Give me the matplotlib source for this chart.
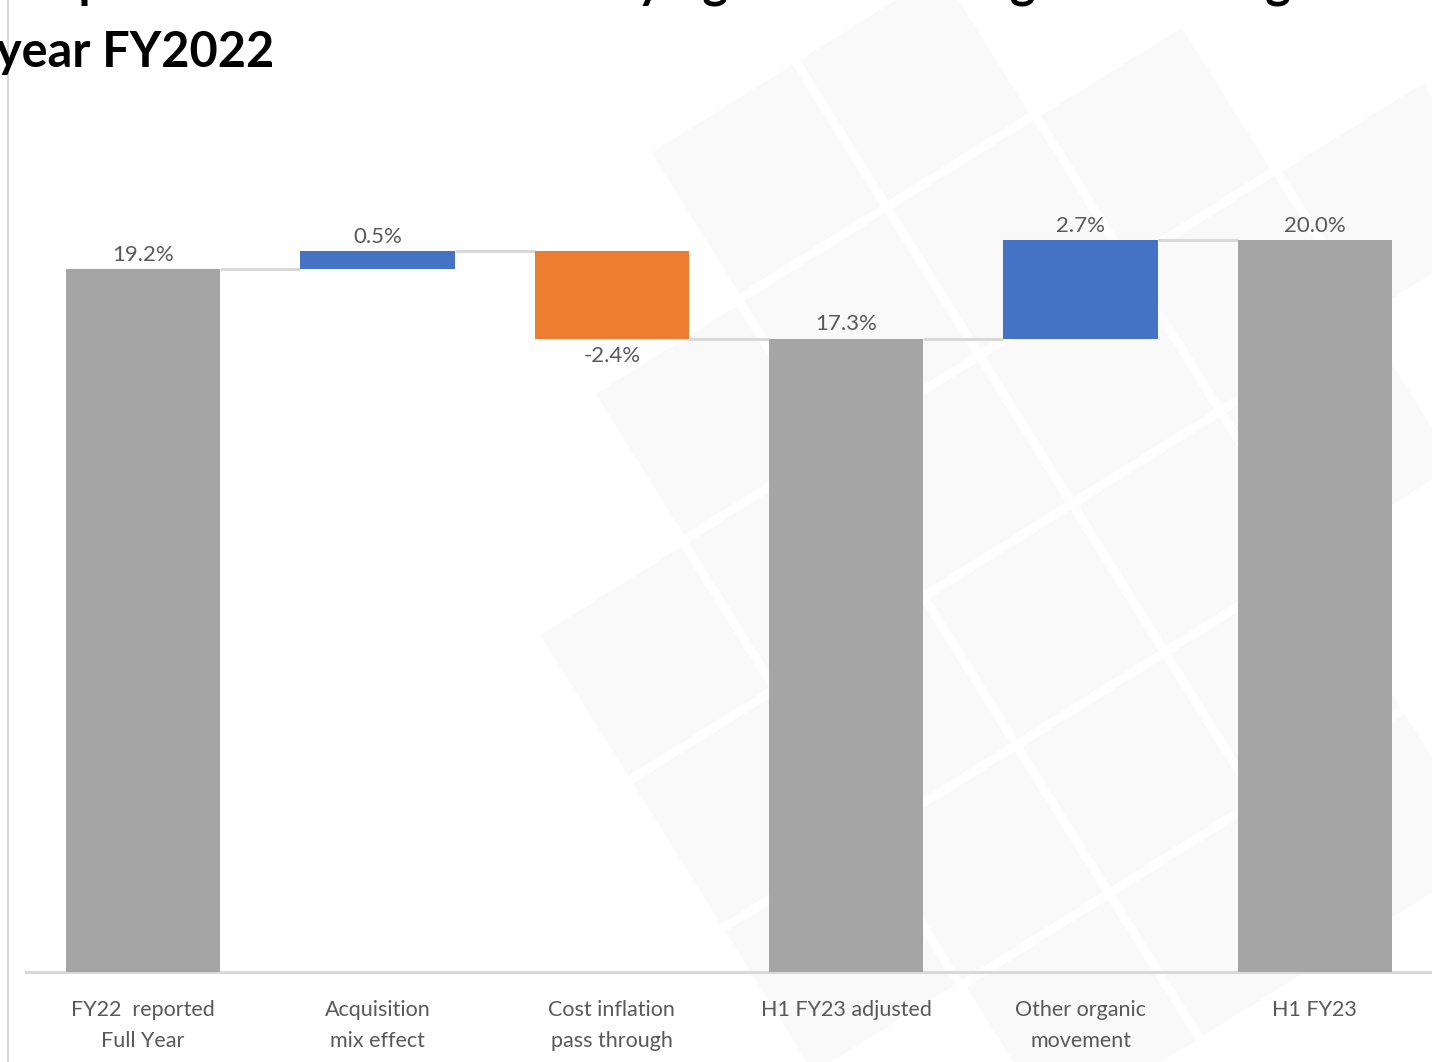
import numpy as np
import matplotlib.pyplot as plt
from matplotlib.patches import Polygon

plt.rcParams['font.family'] = ['Lato', 'DejaVu Sans']

# waterfall steps
categories = ['FY22  reported\nFull Year', 'Acquisition\nmix effect', 'Cost inflation\npass through',
              'H1 FY23 adjusted', 'Other organic\nmovement', 'H1 FY23']
values = [19.2, 0.5, -2.4, 17.3, 2.7, 20.0]
is_total = [True, False, False, True, False, True]
value_labels = ['19.2%', '0.5%', '-2.4%', '17.3%', '2.7%', '20.0%']

grey = '#a5a5a5'
blue = '#4472c4'
orange = '#ed7d31'
text_grey = '#595959'
line_grey = '#d9d9d9'

W, H = 1432, 1062
fig = plt.figure(figsize=(W / 100, H / 100), dpi=100)

# faint tiled backdrop, in pixel coordinates
bg = fig.add_axes([0, 0, 1, 1], zorder=0)
bg.set_xlim(0, W)
bg.set_ylim(H, 0)
bg.axis('off')
ang = np.deg2rad(-32)
u = np.array([np.cos(ang), np.sin(ang)])
v = np.array([-np.sin(ang), np.cos(ang)])
cell, gap = 175, 9
origin = np.array([800.0, 60.0])
region = Polygon([(790, 70), (W, 70), (W, H), (760, H), (585, 450)], closed=True)
for i in range(-8, 10):
    for j in range(-2, 10):
        p0 = origin + i * cell * u + j * cell * v
        corners = [p0, p0 + (cell - gap) * u, p0 + (cell - gap) * (u + v), p0 + (cell - gap) * v]
        c = np.mean(corners, axis=0)
        if region.get_path().contains_point(c):
            bg.add_patch(Polygon(corners, closed=True, facecolor='#f9f9f9', edgecolor='none'))
bg.plot([8, 8], [0, H], color=line_grey, lw=1.5)

# title (upper line runs off the top of the slide)
fig.text(-0.003, 1 - 67 / H, 'year FY2022', fontsize=35, fontweight='bold', color='black',
         ha='left', va='baseline')
fig.text(-0.03, 1 + 3 / H, 'H1 reported to H1 FY23 underlying EBITDA margin vs average full',
         fontsize=35, fontweight='bold', color='black', ha='left', va='baseline')

ax = fig.add_axes([26 / W, 1 - 972 / H, (W - 26) / W, 872 / H], zorder=1)
ax.set_facecolor('none')

x = np.arange(len(categories))
bottoms, tops, colors = [], [], []
level = 0.0
for val, tot in zip(values, is_total):
    if tot:
        bottoms.append(0.0)
        tops.append(val)
        colors.append(grey)
        level = val
    else:
        lo, hi = sorted([level, level + val])
        bottoms.append(lo)
        tops.append(hi)
        colors.append(blue if val > 0 else orange)
        level = level + val
heights = np.array(tops) - np.array(bottoms)

bw = 0.66
ax.bar(x, heights, bottom=bottoms, width=bw, color=colors, edgecolor='none', zorder=3)

# connectors between bars
running = []
level = 0.0
for val, tot in zip(values, is_total):
    level = val if tot else level + val
    running.append(level)
for i in range(len(x) - 1):
    ax.plot([x[i] + bw / 2, x[i + 1] - bw / 2], [running[i], running[i]],
            color=line_grey, lw=2.2, zorder=2, solid_capstyle='butt')

# value labels
for i, (val, tot) in enumerate(zip(values, is_total)):
    if not tot and val < 0:
        ax.text(x[i], bottoms[i] - 0.2, value_labels[i], ha='center', va='top',
                fontsize=16, color=text_grey)
    else:
        ax.text(x[i], tops[i] + 0.12, value_labels[i], ha='center', va='bottom',
                fontsize=16, color=text_grey)

ax.set_xlim(-0.5, 5.5)
ax.set_ylim(0, 872 / 36.6)
ax.set_xticks(x)
ax.set_xticklabels(categories, fontsize=15.5, color=text_grey, linespacing=1.7)
ax.tick_params(axis='x', length=0, pad=20)
ax.set_yticks([])
for s in ['top', 'right', 'left']:
    ax.spines[s].set_visible(False)
ax.spines['bottom'].set_color(line_grey)
ax.spines['bottom'].set_linewidth(2.2)

fig.savefig('out.png', dpi=100)
